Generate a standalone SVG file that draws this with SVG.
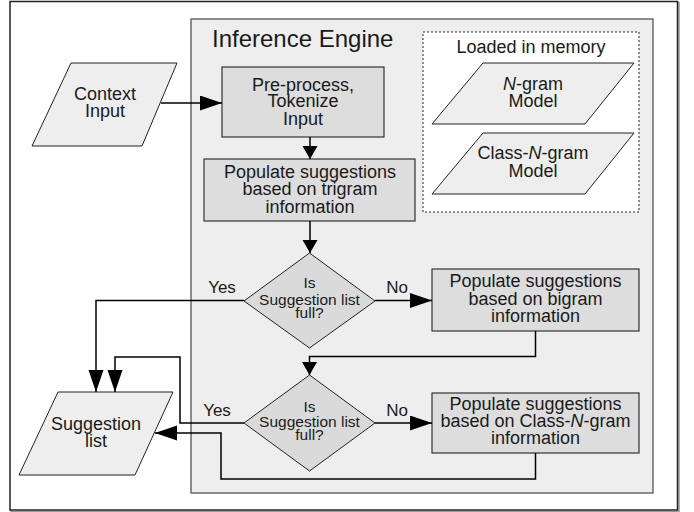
<svg xmlns="http://www.w3.org/2000/svg" width="694" height="512" viewBox="0 0 694 512">
<style>
text{font-family:"Liberation Sans",Arial,sans-serif;fill:#1a1a1a;text-anchor:middle}
.t18{font-size:18px}
.t16{font-size:15.5px}
.lbl{font-size:17px}
.box{fill:#dddddd;stroke:#333;stroke-width:1.2}
.para{fill:#eeeeee;stroke:#222;stroke-width:1}
.dia{fill:#dadada;stroke:#222;stroke-width:1}
.conn{fill:none;stroke:#000;stroke-width:1.5}
</style>
<defs>
<marker id="big" markerUnits="userSpaceOnUse" markerWidth="24" markerHeight="16" refX="22" refY="7.5" orient="auto">
<path d="M0,0 L22,7.5 L0,15 z" fill="#000"/>
</marker>
<marker id="small" markerUnits="userSpaceOnUse" markerWidth="15" markerHeight="16" refX="13" refY="7.5" orient="auto">
<path d="M0,0 L13,7.5 L0,15 z" fill="#000"/>
</marker>
</defs>
<rect x="0" y="0" width="694" height="512" fill="#fff"/>
<g id="frame">
<rect x="11" y="2.5" width="668" height="509" fill="none" stroke="#999" stroke-width="1.5"/>
<rect x="10" y="1.5" width="667.5" height="508.5" fill="#fff" stroke="#222" stroke-width="1.5"/>
</g>
<g id="engine">
<rect x="191" y="19" width="462" height="474" fill="#eeeeee" stroke="#555" stroke-width="1.3"/>
<text x="212" y="47" style="font-size:24px;text-anchor:start">Inference Engine</text>
</g>
<g id="memory">
<rect x="423" y="32" width="216" height="180" fill="#fff" stroke="#222" stroke-width="1" stroke-dasharray="2,2"/>
<text class="t18" x="531" y="53">Loaded in memory</text>
</g>
<g id="ngram">
<polygon class="para" points="483,63 634,63 585,124 432,124"/>
<text class="t18" x="533" y="90"><tspan font-style="italic">N</tspan>-gram</text>
<text class="t18" x="533" y="107">Model</text>
</g>
<g id="classngram">
<polygon class="para" points="483,133 634,133 585,194 432,194"/>
<text class="t18" x="533" y="159">Class-<tspan font-style="italic">N</tspan>-gram</text>
<text class="t18" x="533" y="177">Model</text>
</g>
<g id="context">
<polygon class="para" points="71,63 177,63 142,146 32,146"/>
<text class="t18" x="105" y="100">Context</text>
<text class="t18" x="105" y="117">Input</text>
</g>
<g id="preprocess">
<rect class="box" x="222" y="67" width="162" height="70"/>
<text class="t18" x="303" y="91">Pre-process,</text>
<text class="t18" x="303" y="107">Tokenize</text>
<text class="t18" x="303" y="125">Input</text>
</g>
<g id="trigram">
<rect class="box" x="204" y="159" width="211" height="62"/>
<text class="t18" x="310" y="178">Populate suggestions</text>
<text class="t18" x="310" y="195">based on trigram</text>
<text class="t18" x="310" y="213">information</text>
</g>
<g id="decision1">
<polygon class="dia" points="309.5,253 375,301 309.5,348 244,301"/>
<text class="t16" x="309.5" y="288">Is</text>
<text class="t16" x="309.5" y="305">Suggestion list</text>
<text class="t16" x="309.5" y="318">full?</text>
</g>
<g id="bigram">
<rect class="box" x="432" y="269" width="207" height="62"/>
<text class="t18" x="535.5" y="287">Populate suggestions</text>
<text class="t18" x="535.5" y="305">based on bigram</text>
<text class="t18" x="535.5" y="322">information</text>
</g>
<g id="decision2">
<polygon class="dia" points="309.5,375 375,423 309.5,471 244,423"/>
<text class="t16" x="309.5" y="412">Is</text>
<text class="t16" x="309.5" y="427">Suggestion list</text>
<text class="t16" x="309.5" y="440">full?</text>
</g>
<g id="classgram">
<rect class="box" x="432" y="393" width="207" height="60"/>
<text class="t18" x="535.5" y="410">Populate suggestions</text>
<text class="t18" x="535.5" y="427">based on Class-<tspan font-style="italic">N</tspan>-gram</text>
<text class="t18" x="535.5" y="444">information</text>
</g>
<g id="suggestion">
<polygon class="para" points="58,392 173,392 135,475 19,475"/>
<text class="t18" x="96" y="430">Suggestion</text>
<text class="t18" x="96" y="447">list</text>
</g>
<g id="connectors">
<path class="conn" d="M161,103 H222" marker-end="url(#big)"/>
<path class="conn" d="M310,137 V159" marker-end="url(#small)"/>
<path class="conn" d="M310,221 V253" marker-end="url(#small)"/>
<path class="conn" d="M244,300.5 H96 V392" marker-end="url(#big)"/>
<path class="conn" d="M375,300.5 H432" marker-end="url(#big)"/>
<path class="conn" d="M535.5,331 V356.5 H309.5 V375" marker-end="url(#small)"/>
<path class="conn" d="M244,423 H180 V357 H115 V392" marker-end="url(#big)"/>
<path class="conn" d="M375,423 H432" marker-end="url(#big)"/>
<path class="conn" d="M535.5,453 V479 H221 V433 H155" marker-end="url(#big)"/>
<text class="lbl" x="222" y="293">Yes</text>
<text class="lbl" x="397" y="293">No</text>
<text class="lbl" x="217" y="416">Yes</text>
<text class="lbl" x="397" y="416">No</text>
</g>
</svg>
